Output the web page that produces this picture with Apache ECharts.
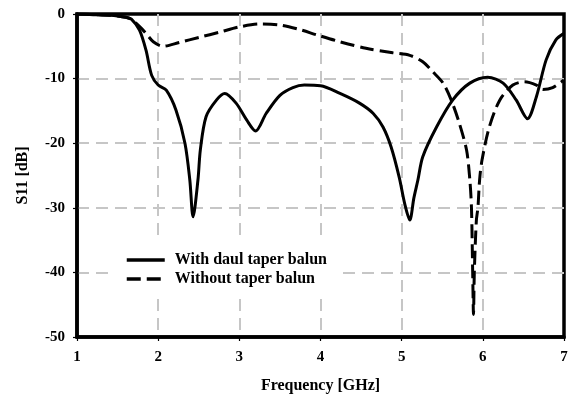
<!DOCTYPE html>
<html>
<head>
<meta charset="utf-8">
<script src="https://cdn.jsdelivr.net/npm/echarts@6/dist/echarts.min.js"></script>
<style>
  html, body { margin: 0; padding: 0; background: #fff; }
  #chart { width: 573px; height: 396px; }
</style>
</head>
<body>
<div id="chart"></div>
<script>
// Return loss of the antenna with and without the dual taper balun
const freqWithBalun = [1.0, 1.2, 1.4, 1.5, 1.6, 1.67, 1.77, 1.85, 1.92, 2.0, 2.1, 2.22, 2.33, 2.39, 2.43, 2.49, 2.52, 2.59, 2.72, 2.82, 2.96, 3.09, 3.2, 3.33, 3.5, 3.66, 3.8, 4.0, 4.24, 4.48, 4.65, 4.77, 4.87, 4.97, 5.04, 5.1, 5.15, 5.2, 5.26, 5.43, 5.63, 5.84, 6.06, 6.25, 6.41, 6.55, 6.66, 6.78, 6.9, 7.0];
const s11WithBalun = [0, -0.1, -0.2, -0.3, -0.5, -0.8, -2.5, -5.6, -9.5, -11, -11.8, -14.9, -20, -25.7, -31.4, -25.7, -21, -15.9, -13.3, -12.3, -13.8, -16.4, -18.1, -15.4, -12.6, -11.4, -11.0, -11.1, -12.3, -13.8, -15.4, -17.5, -20.6, -25.3, -29.5, -31.9, -28.5, -25.7, -22.1, -17.5, -13.3, -10.7, -9.8, -10.7, -13.3, -16.2, -12.8, -7.1, -4.0, -3.0];

const freqWithoutBalun = [1.0, 1.2, 1.4, 1.5, 1.6, 1.67, 1.73, 1.8, 1.85, 1.94, 2.06, 2.26, 2.51, 2.76, 3.0, 3.25, 3.5, 3.74, 3.97, 4.24, 4.56, 4.89, 5.1, 5.26, 5.38, 5.51, 5.61, 5.71, 5.8, 5.84, 5.86, 5.875, 5.885, 5.895, 5.92, 5.94, 5.96, 5.99, 6.08, 6.21, 6.37, 6.51, 6.66, 6.74, 6.86, 7.0];
const s11WithoutBalun = [0, -0.1, -0.2, -0.3, -0.5, -0.8, -1.45, -2.3, -3.0, -4.3, -5.0, -4.4, -3.6, -2.8, -2.0, -1.55, -1.7, -2.4, -3.3, -4.3, -5.3, -6.0, -6.4, -7.4, -8.9, -10.7, -13.3, -16.9, -21.1, -25.7, -30, -40, -46.5, -40, -32, -29.9, -25.7, -22.6, -17.5, -13.3, -11.0, -10.5, -11.0, -11.7, -11.4, -10.2];

const seriesNames = ['With daul taper balun', 'Without taper balun'];
const xTicks = { min: 1, max: 7, step: 1 };
const yTicks = { min: -50, max: 0, step: 10 };

const zip = (xs, ys) => xs.map((x, i) => [x, ys[i]]);

const serif = '"Liberation Serif", "Times New Roman", serif';
const gridLine = {
  show: true, showMinLine: false, showMaxLine: false,
  lineStyle: { color: '#c6c6c6', width: 2, type: [12, 7] }
};
const tickLabel = { fontFamily: serif, fontWeight: 'bold', fontSize: 15, color: '#000' };
const axisName = { fontFamily: serif, fontWeight: 'bold', fontSize: 16, color: '#000' };

const chart = echarts.init(document.getElementById('chart'), null, { renderer: 'canvas' });
chart.setOption({
  animation: false,
  backgroundColor: '#fff',
  grid: {
    left: 77, right: 9, top: 14, bottom: 59,
    outerBoundsMode: 'none',
    containLabel: false,
    show: true, borderColor: '#000', borderWidth: 3.5, backgroundColor: 'transparent'
  },
  legend: {
    orient: 'vertical',
    left: 113, top: 242,
    padding: [10, 12, 10, 12],
    backgroundColor: '#fff',
    itemWidth: 38, itemHeight: 14, itemGap: 3,
    itemStyle: { opacity: 0 },
    lineStyle: { width: 3.5 },
    textStyle: { fontFamily: serif, fontWeight: 'bold', fontSize: 16, color: '#000', padding: [0, 0, 0, 5] },
    data: seriesNames
  },
  xAxis: {
    type: 'value',
    min: xTicks.min, max: xTicks.max, interval: xTicks.step,
    name: 'Frequency [GHz]',
    nameLocation: 'middle', nameGap: 41,
    nameTextStyle: axisName,
    axisLine: { show: true, onZero: false, lineStyle: { color: '#000', width: 3.5 } },
    axisTick: { show: true, inside: false, length: 4, lineStyle: { color: '#000', width: 1.2 } },
    axisLabel: Object.assign({ margin: 13 }, tickLabel),
    splitLine: gridLine
  },
  yAxis: {
    type: 'value',
    min: yTicks.min, max: yTicks.max, interval: yTicks.step,
    name: 'S11 [dB]',
    nameLocation: 'middle', nameGap: 46,
    nameTextStyle: axisName,
    axisLine: { show: true, onZero: false, lineStyle: { color: '#000', width: 3.5 } },
    axisTick: { show: true, inside: false, length: 4, lineStyle: { color: '#000', width: 1.2 } },
    axisLabel: Object.assign({ margin: 12 }, tickLabel),
    splitLine: gridLine
  },
  series: [
    {
      name: seriesNames[0],
      type: 'line',
      data: zip(freqWithBalun, s11WithBalun),
      smooth: 0.3,
      symbol: 'none',
      lineStyle: { color: '#000', width: 3 },
      itemStyle: { color: '#000' },
      z: 3
    },
    {
      name: seriesNames[1],
      type: 'line',
      data: zip(freqWithoutBalun, s11WithoutBalun),
      smooth: 0.3,
      symbol: 'none',
      lineStyle: { color: '#000', width: 3, type: [14, 6] },
      itemStyle: { color: '#000' },
      z: 3
    }
  ]
});
</script>
</body>
</html>
